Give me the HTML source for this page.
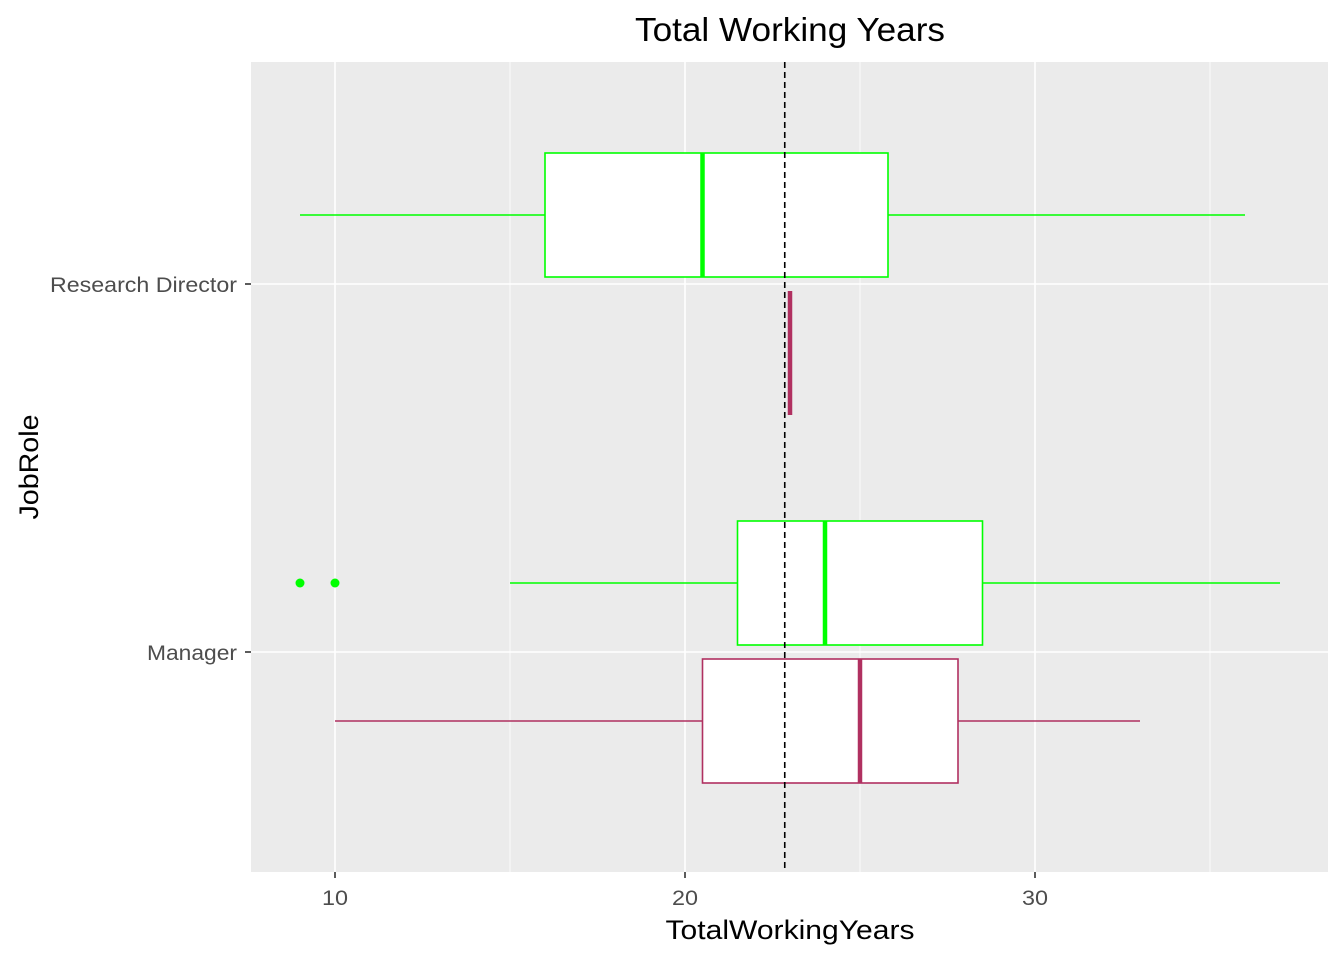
<!DOCTYPE html>
<html><head><meta charset="utf-8"><style>
body{margin:0;background:#fff;}
svg{display:block;font-family:"Liberation Sans",Arial,sans-serif;}
</style></head><body>
<svg id="chart" width="1344" height="960"></svg>
<script>
const categories=["Research Director","Manager"];
const groups=["green","maroon"];
const colors={green:"#00FF00",maroon:"#B03060"};
// [whiskerLow, q1, median, q3, whiskerHigh] per category per group
const greenStats=[[9,16,20.5,25.8,36],[15,21.5,24,28.5,37]];
const maroonStats=[[23,23,23,23,23],[10,20.5,25,27.8,33]];
const greenOutliers=[[],[9,10]];
const maroonOutliers=[[],[]];
const xTicks=[10,20,30];
const xMinor=[15,25,35];
const refLine=22.85;

const NS="http://www.w3.org/2000/svg";
const svg=document.getElementById('chart');
const PL=251,PR=1328,PT=62,PB=872;
const x=v=>335+(v-10)*35;
const catY={"Research Director":284,"Manager":652};
const catW={"Research Director":187,"Manager":90};
function el(t,a,p){const e=document.createElementNS(NS,t);for(const k in a)e.setAttribute(k,a[k]);(p||svg).appendChild(e);return e;}

const panel=el('rect',{x:PL,y:PT,width:PR-PL,height:PB-PT,fill:'#EBEBEB'});


xMinor.forEach(v=>{const l=el('line',{x1:x(v),x2:x(v),y1:PT,y2:PB,stroke:'#fff','stroke-width':0.8});

});
xTicks.forEach(v=>{const l=el('line',{x1:x(v),x2:x(v),y1:PT,y2:PB,stroke:'#fff','stroke-width':1.6});

});
categories.forEach(c=>{const l=el('line',{x1:PL,x2:PR,y1:catY[c],y2:catY[c],stroke:'#fff','stroke-width':1.6});

});

const statsBy={green:greenStats,maroon:maroonStats};
const outBy={green:greenOutliers,maroon:maroonOutliers};
const offset={green:-69,maroon:69};
const halfH=62;
categories.forEach((c,ci)=>{
  groups.forEach(g=>{
    const s=statsBy[g][ci];const cy=catY[c]+offset[g];const col=colors[g];
    const grp=el('g',{});
    
    
    el('line',{x1:x(s[0]),x2:x(s[1]),y1:cy,y2:cy,stroke:col,'stroke-width':1.6},grp);
    el('line',{x1:x(s[3]),x2:x(s[4]),y1:cy,y2:cy,stroke:col,'stroke-width':1.6},grp);
    el('rect',{x:x(s[1]),y:cy-halfH,width:x(s[3])-x(s[1]),height:2*halfH,fill:'#fff',stroke:col,'stroke-width':1.6},grp);
    el('line',{x1:x(s[2]),x2:x(s[2]),y1:cy-halfH,y2:cy+halfH,stroke:col,'stroke-width':4.5},grp);
    outBy[g][ci].forEach(o=>{const p=el('circle',{cx:x(o),cy:cy,r:4.5,fill:col},grp);
      
      });
  });
});
const rl=el('line',{x1:x(refLine),x2:x(refLine),y1:PT,y2:PB,stroke:'#000','stroke-width':1.6,'stroke-dasharray':'6,4'});



xTicks.forEach(v=>{
  el('line',{x1:x(v),x2:x(v),y1:PB,y2:PB+6,stroke:'#333','stroke-width':1.6});
  const t=el('text',{x:x(v),y:PB+33,'text-anchor':'middle','font-size':21,fill:'#4D4D4D',textLength:26,lengthAdjust:'spacingAndGlyphs'});t.textContent=v;
  
  
});
categories.forEach(c=>{
  el('line',{x1:PL-6,x2:PL,y1:catY[c],y2:catY[c],stroke:'#333','stroke-width':1.6});
  const t=el('text',{x:PL-14,y:catY[c]+8,'text-anchor':'end','font-size':21,fill:'#4D4D4D',textLength:catW[c],lengthAdjust:'spacingAndGlyphs'});t.textContent=c;
  
  
});
const xt=el('text',{x:790,y:939,'text-anchor':'middle','font-size':27,fill:'#000',textLength:249,lengthAdjust:'spacingAndGlyphs'});xt.textContent='TotalWorkingYears';


const yt=el('text',{x:0,y:0,'text-anchor':'middle','font-size':27,fill:'#000',textLength:105,lengthAdjust:'spacingAndGlyphs',transform:'translate(38,467) rotate(-90)'});yt.textContent='JobRole';


const tt=el('text',{x:790,y:41,'text-anchor':'middle','font-size':33,fill:'#000',textLength:310,lengthAdjust:'spacingAndGlyphs'});tt.textContent='Total Working Years';


</script>
</body></html>
